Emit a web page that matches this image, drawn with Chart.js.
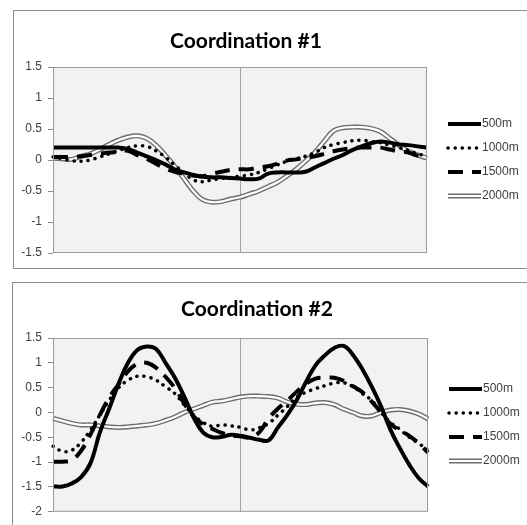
<!DOCTYPE html>
<html>
<head>
<meta charset="utf-8">
<script src="https://cdn.jsdelivr.net/npm/chart.js@4"></script>
<style>
  html, body { margin: 0; padding: 0; background: #fff; }
  body { width: 527px; height: 525px; overflow: hidden; position: relative; }
  .box { position: absolute; border: 1px solid #8c8c8c; box-sizing: border-box; width: 540px; }
  #box1 { left: 13px; top: 10px; height: 259px; }
  #box2 { left: 12px; top: 282px; height: 260px; }
  canvas { position: absolute; left: 0; top: 0; }
</style>
</head>
<body>
<div class="box" id="box1"><canvas id="chart1" width="513" height="257"></canvas></div>
<div class="box" id="box2"><canvas id="chart2" width="514" height="242"></canvas></div>
<script>
// x positions along the run (no labels shown on the axis)
const steps = Array.from({ length: 41 }, (_, i) => i);

const yTicks1 = [-1.5, -1, -0.5, 0, 0.5, 1, 1.5];
const yTicks2 = [-2, -1.5, -1, -0.5, 0, 0.5, 1, 1.5];

// Coordination #1
const c1_500m  = [0.2, 0.2, 0.2, 0.2, 0.2, 0.2, 0.2, 0.2, 0.18, 0.12, 0.06, 0.0, -0.07, -0.15, -0.2, -0.24, -0.27, -0.28, -0.28, -0.29, -0.3, -0.31, -0.3, -0.22, -0.2, -0.2, -0.2, -0.19, -0.12, -0.05, 0.02, 0.08, 0.16, 0.22, 0.27, 0.3, 0.28, 0.25, 0.24, 0.22, 0.2];
const c1_1000m = [0.05, 0.02, -0.01, -0.02, 0.0, 0.05, 0.1, 0.15, 0.2, 0.23, 0.22, 0.15, 0.05, -0.08, -0.2, -0.32, -0.35, -0.32, -0.3, -0.28, -0.26, -0.24, -0.2, -0.14, -0.08, -0.02, 0.02, 0.06, 0.12, 0.2, 0.25, 0.28, 0.31, 0.32, 0.3, 0.28, 0.24, 0.2, 0.15, 0.1, 0.06];
const c1_1500m = [0.05, 0.05, 0.05, 0.06, 0.08, 0.1, 0.12, 0.13, 0.15, 0.08, 0.02, -0.06, -0.14, -0.19, -0.22, -0.25, -0.26, -0.22, -0.19, -0.16, -0.15, -0.15, -0.12, -0.1, -0.06, -0.01, 0.01, 0.04, 0.06, 0.1, 0.14, 0.17, 0.19, 0.2, 0.2, 0.2, 0.17, 0.14, 0.12, 0.07, 0.05];
const c1_2000m = [0.03, 0.02, 0.01, 0.06, 0.1, 0.17, 0.25, 0.32, 0.37, 0.39, 0.35, 0.24, 0.08, -0.1, -0.3, -0.5, -0.64, -0.68, -0.67, -0.63, -0.6, -0.55, -0.5, -0.43, -0.36, -0.26, -0.15, -0.02, 0.12, 0.3, 0.47, 0.52, 0.53, 0.53, 0.51, 0.46, 0.35, 0.24, 0.14, 0.08, 0.03];

// Coordination #2
const c2_500m  = [-1.49, -1.49, -1.43, -1.3, -1.02, -0.4, 0.08, 0.58, 1.0, 1.26, 1.33, 1.28, 1.0, 0.7, 0.32, -0.1, -0.4, -0.5, -0.49, -0.45, -0.47, -0.51, -0.55, -0.56, -0.3, -0.05, 0.25, 0.62, 0.95, 1.15, 1.3, 1.34, 1.16, 0.87, 0.52, 0.12, -0.35, -0.72, -1.05, -1.32, -1.49];
const c2_1000m = [-0.68, -0.78, -0.76, -0.6, -0.35, -0.05, 0.25, 0.5, 0.65, 0.73, 0.72, 0.65, 0.52, 0.38, 0.15, -0.05, -0.2, -0.28, -0.25, -0.27, -0.3, -0.35, -0.31, -0.22, -0.05, 0.12, 0.31, 0.41, 0.48, 0.54, 0.59, 0.6, 0.52, 0.38, 0.24, 0.0, -0.2, -0.34, -0.5, -0.62, -0.76];
const c2_1500m = [-0.99, -0.99, -0.96, -0.77, -0.44, -0.05, 0.3, 0.57, 0.83, 0.98, 1.0, 0.9, 0.72, 0.49, 0.18, -0.08, -0.24, -0.33, -0.41, -0.46, -0.48, -0.5, -0.4, -0.12, 0.08, 0.24, 0.42, 0.58, 0.68, 0.7, 0.7, 0.64, 0.53, 0.41, 0.22, 0.0, -0.23, -0.36, -0.47, -0.62, -0.81];
const c2_2000m = [-0.12, -0.17, -0.22, -0.25, -0.25, -0.27, -0.29, -0.3, -0.29, -0.27, -0.25, -0.22, -0.16, -0.09, 0.0, 0.07, 0.14, 0.21, 0.23, 0.27, 0.31, 0.33, 0.33, 0.32, 0.29, 0.21, 0.17, 0.16, 0.19, 0.2, 0.16, 0.07, 0.0, -0.07, -0.07, 0.0, 0.05, 0.06, 0.03, -0.03, -0.13];

// grey plot area, border, title and the excel-like legend on the right
const plotFrame = {
    id: 'plotFrame',
    beforeDraw(chart) {
        const { ctx, chartArea: a } = chart;
        ctx.save();
        ctx.fillStyle = '#f2f2f2';
        ctx.fillRect(a.left, a.top, a.width, a.height);
        ctx.restore();
    },
    afterDraw(chart, args, opts) {
        const { ctx, chartArea: a } = chart;
        ctx.save();
        ctx.strokeStyle = '#9a9a9a';
        ctx.lineWidth = 1;
        ctx.strokeRect(a.left + 0.5, a.top + 0.5, a.width - 1, a.height - 1);

        ctx.font = 'bold 21px Lato';
        ctx.fillStyle = '#000';
        ctx.textAlign = 'center';
        ctx.textBaseline = 'alphabetic';
        ctx.fillText(opts.title, opts.titleX, opts.titleY);

        const names = [...new Set(chart.data.datasets.map(d => d.label))];
        const mid = (a.top + a.bottom) / 2;
        const rowY = i => Math.round(mid + (i - (names.length - 1) / 2) * 24);
        chart.data.datasets.forEach(ds => {
            const y = rowY(names.indexOf(ds.label));
            ctx.beginPath();
            ctx.strokeStyle = ds.borderColor;
            ctx.lineWidth = ds.borderWidth;
            ctx.lineCap = ds.borderCapStyle || 'butt';
            ctx.setLineDash(ds.borderDash || []);
            ctx.moveTo(a.right + 21, y);
            ctx.lineTo(a.right + 54, y);
            ctx.stroke();
        });
        ctx.setLineDash([]);
        ctx.font = '12px "Liberation Sans"';
        ctx.fillStyle = '#404040';
        ctx.textAlign = 'left';
        ctx.textBaseline = 'middle';
        names.forEach((n, i) => ctx.fillText(n, a.right + 55, rowY(i)));
        ctx.restore();
    }
};

function makeSeries(s500, s1000, s1500, s2000) {
    return [
        { label: '500m', data: s500, borderColor: '#000', borderWidth: 4, order: 0 },
        { label: '1000m', data: s1000, borderColor: '#000', borderWidth: 3.5, borderDash: [0.1, 7], borderCapStyle: 'round', order: 0 },
        { label: '1500m', data: s1500, borderColor: '#000', borderWidth: 4, borderDash: [15, 9], order: 0 },
        // 2000m is a double line: a grey stroke with a white one inside it
        { label: '2000m', data: s2000, borderColor: '#6e6e6e', borderWidth: 5, order: 2 },
        { label: '2000m', data: s2000, borderColor: '#ffffff', borderWidth: 2.2, order: 1 }
    ];
}

function drawCoordination(canvasId, title, titleX, titleY, datasets, yTicks, yWidth, padding) {
    const ctx = document.getElementById(canvasId).getContext('2d');
    return new Chart(ctx, {
        type: 'line',
        data: { labels: steps, datasets: datasets },
        options: {
            responsive: false,
            animation: false,
            layout: { padding: padding },
            elements: {
                point: { radius: 0 },
                line: { tension: 0.4, fill: false }
            },
            scales: {
                x: {
                    ticks: { display: false, autoSkip: false },
                    grid: {
                        drawTicks: false,
                        color: c => c.index === 20 ? '#a6a6a6' : 'rgba(0,0,0,0)'
                    },
                    border: { display: false }
                },
                y: {
                    min: yTicks[0],
                    max: yTicks[yTicks.length - 1],
                    afterBuildTicks: s => { s.ticks = yTicks.map(v => ({ value: v })); },
                    afterFit: s => { s.width = yWidth; },
                    ticks: {
                        color: '#404040',
                        font: { family: '"Liberation Sans"', size: 12 },
                        padding: 6,
                        callback: v => String(v)
                    },
                    grid: { drawOnChartArea: false, drawTicks: true, tickLength: 5, color: '#8c8c8c' },
                    border: { display: false }
                }
            },
            plugins: {
                legend: { display: false },
                tooltip: { enabled: false },
                plotFrame: { title: title, titleX: titleX, titleY: titleY }
            }
        },
        plugins: [plotFrame]
    });
}

drawCoordination('chart1', 'Coordination #1', 232, 37,
    makeSeries(c1_500m, c1_1000m, c1_1500m, c1_2000m), yTicks1, 39,
    { top: 56, right: 100, bottom: 15, left: 0 });

drawCoordination('chart2', 'Coordination #2', 244, 33,
    makeSeries(c2_500m, c2_1000m, c2_1500m, c2_2000m), yTicks2, 40,
    { top: 55, right: 99, bottom: 10, left: 0 });
</script>
</body>
</html>
